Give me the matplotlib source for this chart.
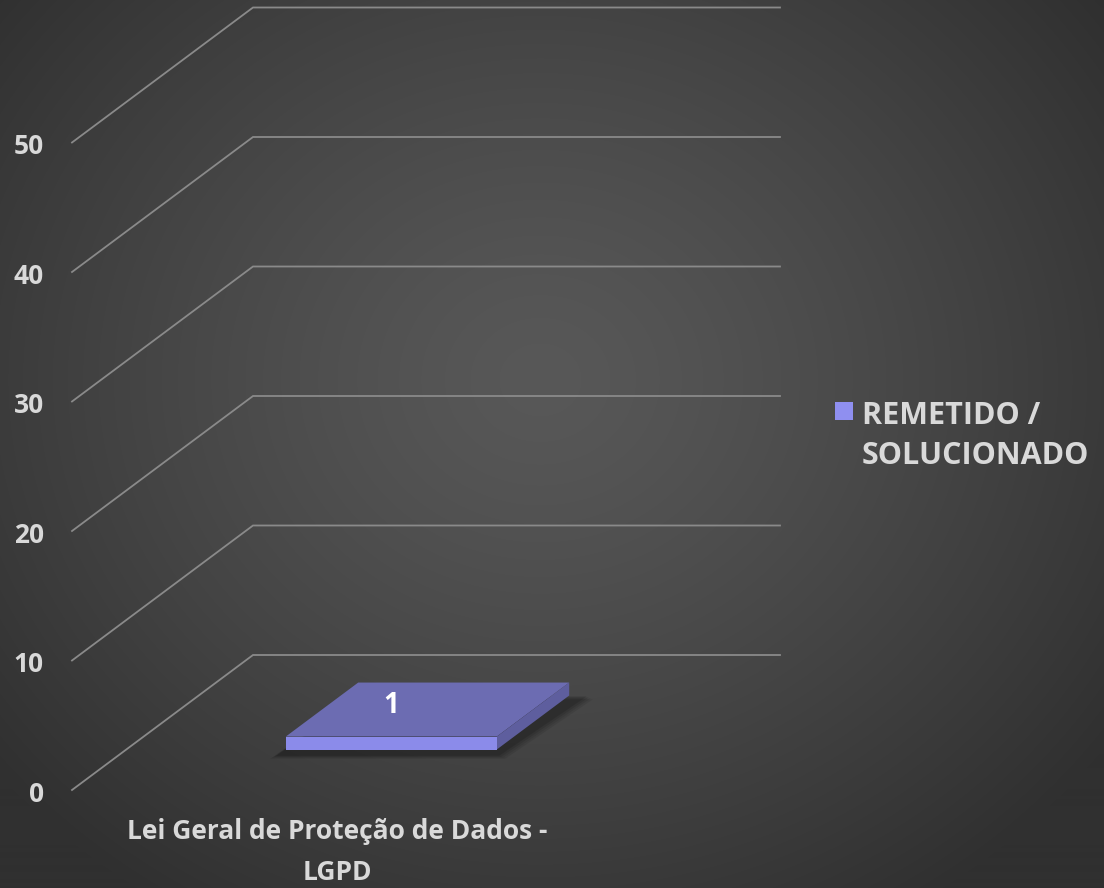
import numpy as np
import matplotlib
matplotlib.use('Agg')
import matplotlib.pyplot as plt
from matplotlib.patches import Polygon

# dados
categorias = ['Lei Geral de Proteção de Dados -\nLGPD']
valores = [1]
serie = 'REMETIDO /\nSOLUCIONADO'
ticks = [0, 10, 20, 30, 40, 50]

plt.rcParams['font.family'] = ['Open Sans', 'DejaVu Sans']

W, H = 1104, 888
fig = plt.figure(figsize=(W / 100, H / 100), dpi=100)
ax = fig.add_axes([0, 0, 1, 1])
ax.set_xlim(0, W)
ax.set_ylim(H, 0)
ax.axis('off')

# fundo com gradiente radial
yy, xx = np.mgrid[0:H, 0:W]
r = np.sqrt(((xx - 540) / 700.0) ** 2 + ((yy - 380) / 620.0) ** 2)
r = np.clip(r, 0, 1)
g = (88 - 40 * r ** 1.3) / 255.0
bg = np.dstack([g, g, g])
ax.imshow(bg, extent=[0, W, H, 0], zorder=0, aspect='auto')

# "projecao" 3d falsa
x_front, x_back, x_right = 72, 253, 780
y0_front = 790
px_por_unid = 12.95
dx_prof, dy_prof = x_back - x_front, -135


def proj(xp, v, d):
    # xp: posicao horizontal na frente, v: valor, d: profundidade 0..1
    return xp + dx_prof * d, y0_front - v * px_por_unid + dy_prof * d


grid_cor = '#8a8a8a'
txt_cor = '#d9d9d9'
for t in ticks:
    xa, ya = proj(x_front, t, 0)
    xb, yb = proj(x_front, t, 1)
    ax.plot([xa, xb, x_right], [ya, yb, yb], color=grid_cor, lw=1.3, zorder=1,
            solid_joinstyle='miter')
    ax.text(44, ya + 4, str(t), ha='right', va='center', fontsize=19,
            fontweight='bold', color=txt_cor)

# barra
largura = 211
centro = 337
d0, d1 = 0.3, 0.7
for i, (cat, v) in enumerate(zip(categorias, valores)):
    xl = centro - largura / 2
    xr = centro + largura / 2
    # sombra
    sh = [proj(xl - 6, -0.2, d0 - 0.02), proj(xr + 6, -0.2, d0 - 0.02),
          proj(xr + 14, -0.2, d1 + 0.02), proj(xl, -0.2, d1 + 0.02)]
    for k, a in enumerate([0.08, 0.08, 0.1, 0.12]):
        sp = [(p[0] + (3 - k) * 2 * (1 if j in (1, 2) else -1), p[1] + 4 - k)
              for j, p in enumerate(sh)]
        ax.add_patch(Polygon(sp, closed=True, color='black', alpha=a, lw=0, zorder=2))
    frente = [proj(xl, 0, d0), proj(xr, 0, d0), proj(xr, v, d0), proj(xl, v, d0)]
    topo = [proj(xl, v, d0), proj(xr, v, d0), proj(xr, v, d1), proj(xl, v, d1)]
    lado = [proj(xr, 0, d0), proj(xr, 0, d1), proj(xr, v, d1), proj(xr, v, d0)]
    ax.add_patch(Polygon(topo, closed=True, fc='#6c6cb2', ec='none', zorder=3))
    ax.add_patch(Polygon(lado, closed=True, fc='#5e5e9e', ec='none', zorder=3))
    ax.add_patch(Polygon(frente, closed=True, fc='#8b8bea', ec='none', zorder=4))
    lx, ly = proj(centro, v, d0)
    ax.text(lx, ly - 31, str(v), ha='center', va='center', fontsize=20,
            fontweight='bold', color='white', zorder=5)
    ax.text(337, 852, cat, ha='center', va='center', fontsize=19,
            fontweight='bold', color=txt_cor, linespacing=1.62)

# legenda
ax.add_patch(plt.Rectangle((835, 402), 18, 18, fc='#8f8ff0', ec='none', zorder=5))
ax.text(862, 436, serie, ha='left', va='center', fontsize=22,
        fontweight='bold', color=txt_cor, linespacing=1.47)

fig.savefig('out.png', dpi=100)
